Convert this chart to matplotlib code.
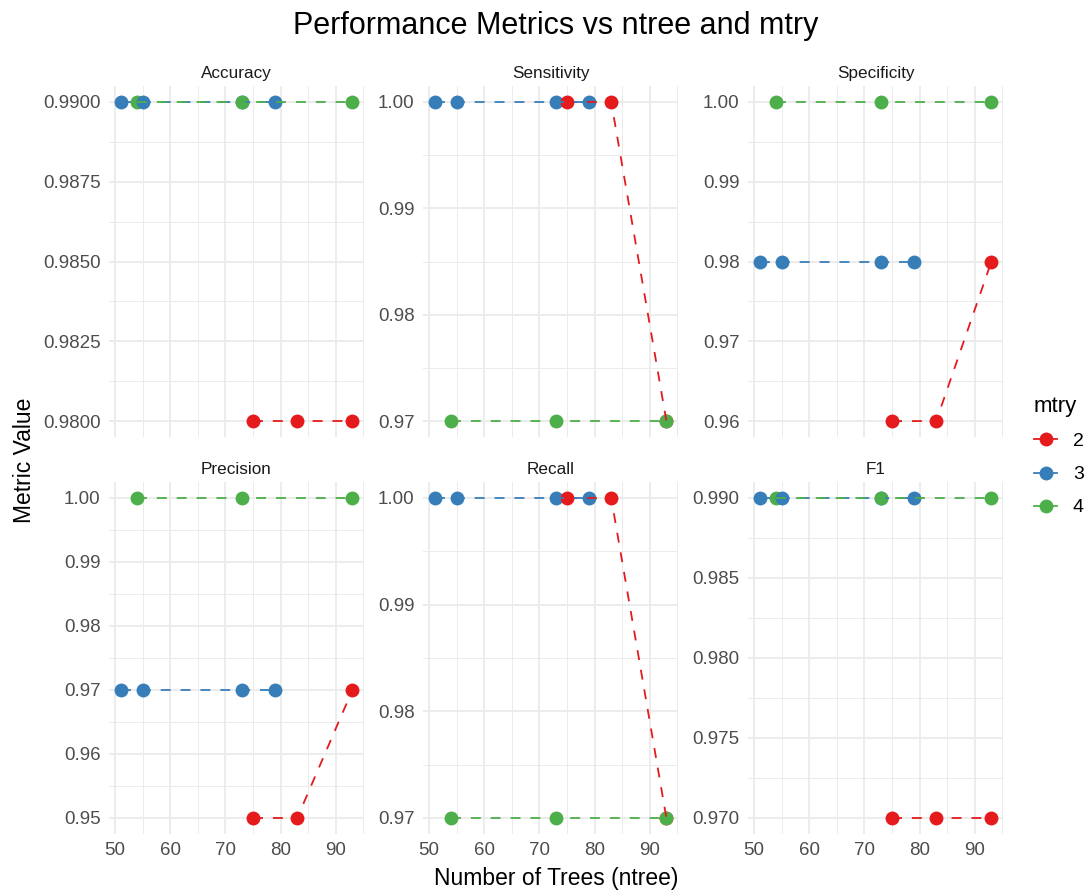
import numpy as np
import matplotlib.pyplot as plt
from matplotlib.lines import Line2D
from matplotlib.ticker import MultipleLocator, FormatStrFormatter

plt.rcParams['font.family'] = ['Liberation Sans', 'DejaVu Sans']

# grid search results: ntree values tried for each mtry
mtry_levels = [2, 3, 4]
ntree_m2 = [75, 83, 93]
ntree_m3 = [51, 55, 73, 79]
ntree_m4 = [54, 73, 93]

accuracy_m2 = [0.98, 0.98, 0.98]
accuracy_m3 = [0.99, 0.99, 0.99, 0.99]
accuracy_m4 = [0.99, 0.99, 0.99]

sensitivity_m2 = [1.00, 1.00, 0.97]
sensitivity_m3 = [1.00, 1.00, 1.00, 1.00]
sensitivity_m4 = [0.97, 0.97, 0.97]

specificity_m2 = [0.96, 0.96, 0.98]
specificity_m3 = [0.98, 0.98, 0.98, 0.98]
specificity_m4 = [1.00, 1.00, 1.00]

precision_m2 = [0.95, 0.95, 0.97]
precision_m3 = [0.97, 0.97, 0.97, 0.97]
precision_m4 = [1.00, 1.00, 1.00]

recall_m2 = [1.00, 1.00, 0.97]
recall_m3 = [1.00, 1.00, 1.00, 1.00]
recall_m4 = [0.97, 0.97, 0.97]

f1_m2 = [0.97, 0.97, 0.97]
f1_m3 = [0.99, 0.99, 0.99, 0.99]
f1_m4 = [0.99, 0.99, 0.99]

metric_names = ['Accuracy', 'Sensitivity', 'Specificity', 'Precision', 'Recall', 'F1']
metric_values = {
    'Accuracy': [accuracy_m2, accuracy_m3, accuracy_m4],
    'Sensitivity': [sensitivity_m2, sensitivity_m3, sensitivity_m4],
    'Specificity': [specificity_m2, specificity_m3, specificity_m4],
    'Precision': [precision_m2, precision_m3, precision_m4],
    'Recall': [recall_m2, recall_m3, recall_m4],
    'F1': [f1_m2, f1_m3, f1_m4],
}
# y tick step and decimals for each facet (free scales)
y_steps = {'Accuracy': (0.0025, 4), 'Sensitivity': (0.01, 2), 'Specificity': (0.01, 2),
           'Precision': (0.01, 2), 'Recall': (0.01, 2), 'F1': (0.005, 3)}

ntree_sets = [ntree_m2, ntree_m3, ntree_m4]
colors = ['#E41A1C', '#377EB8', '#4DAF4A']

W, H = 1084, 893
fig = plt.figure(figsize=(W / 100, H / 100), dpi=100)


def px_axes(left, top, right, bottom):
    return fig.add_axes([left / W, 1 - bottom / H, (right - left) / W, (bottom - top) / H])


cols = [(109, 364), (423, 678), (748, 1003)]
rows = [(86, 437), (482, 834)]

all_x = np.concatenate([np.array(s) for s in ntree_sets])
xpad = (all_x.max() - all_x.min()) * 0.05
xlim = (all_x.min() - xpad, all_x.max() + xpad)

for i, name in enumerate(metric_names):
    r, c = divmod(i, 3)
    ax = px_axes(cols[c][0], rows[r][0], cols[c][1], rows[r][1])
    for sp in ax.spines.values():
        sp.set_visible(False)

    vals = metric_values[name]
    all_y = np.concatenate([np.array(v) for v in vals])
    ypad = (all_y.max() - all_y.min()) * 0.05
    ax.set_xlim(*xlim)
    ax.set_ylim(all_y.min() - ypad, all_y.max() + ypad)

    step, dec = y_steps[name]
    ax.xaxis.set_major_locator(MultipleLocator(10))
    ax.xaxis.set_minor_locator(MultipleLocator(5))
    ax.yaxis.set_major_locator(MultipleLocator(step))
    ax.yaxis.set_minor_locator(MultipleLocator(step / 2))
    ax.yaxis.set_major_formatter(FormatStrFormatter('%.{}f'.format(dec)))
    ax.grid(which='major', color='#EBEBEB', lw=1.3)
    ax.grid(which='minor', color='#EBEBEB', lw=0.7)
    ax.set_axisbelow(True)
    ax.tick_params(which='both', length=0, labelsize=13.5, labelcolor='#4D4D4D', pad=6)
    if r == 0:
        ax.tick_params(axis='x', labelbottom=False)

    # points first, ordered by ntree then mtry
    recs = []
    for k in range(3):
        for x, y in zip(ntree_sets[k], vals[k]):
            recs.append((x, mtry_levels[k], y, colors[k]))
    recs.sort(key=lambda t: (t[0], t[1]))
    for x, m, y, col in recs:
        ax.plot([x], [y], 'o', ms=10, mew=0, color=col, zorder=2)

    # dashed lines drawn over the points
    for k in range(3):
        ax.plot(ntree_sets[k], vals[k], ls=(0, (5.5, 5.5)), lw=1.3, color=colors[k], zorder=3)

    ax.set_title(name, fontsize=12.3, color='#1A1A1A', pad=6)

fig.text(556 / W, 1 - 26 / H, 'Performance Metrics vs ntree and mtry', ha='center', va='center',
         fontsize=22)
fig.text(556 / W, 1 - 879 / H, 'Number of Trees (ntree)', ha='center', va='center', fontsize=16.5)
fig.text(25 / W, 1 - 460 / H, 'Metric Value', ha='center', va='center', rotation=90, fontsize=16.5)

handles = [Line2D([0], [0], color=col, lw=1.3, marker='o', ms=10, mew=0) for col in colors]
fig.legend(handles, [str(m) for m in mtry_levels], title='mtry', loc='upper left',
           bbox_to_anchor=(1034 / W, 1 - 396 / H), frameon=False, fontsize=14,
           title_fontsize=16, alignment='left', borderpad=0, borderaxespad=0,
           handlelength=1.2, handletextpad=0.8, labelspacing=0.8)

fig.savefig('out.png', dpi=100, facecolor='white')
